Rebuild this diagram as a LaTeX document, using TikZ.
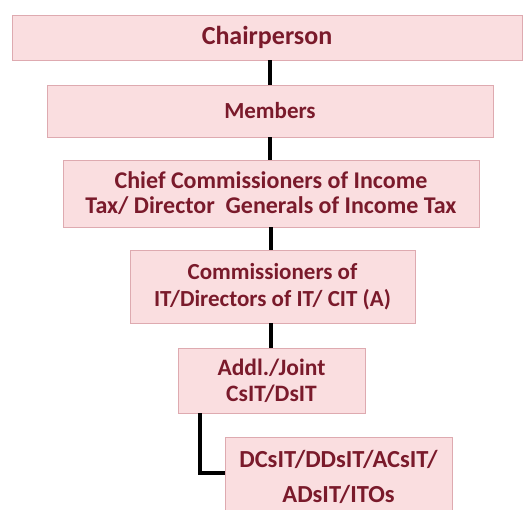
\documentclass[tikz,border=0pt]{standalone}
\usepackage{fontspec}
\setmainfont{Carlito}
\definecolor{pinkfill}{RGB}{250,222,224}
\definecolor{pinkedge}{RGB}{222,170,176}
\definecolor{maroon}{RGB}{122,26,43}
\newcommand{\boxfont}[2]{\bfseries\fontsize{#1}{#2}\selectfont}
\tikzset{
	orgbox/.style={draw=pinkedge, fill=pinkfill, text=maroon, align=center, inner sep=0pt},
	link/.style={line width=4pt, black}
}
\begin{document}
\begin{tikzpicture}[x=1pt, y=-1pt]
		\useasboundingbox (0, 0) rectangle (525, 509);

		\node[orgbox, minimum width=510pt, minimum height=45pt, font=\boxfont{26}{28}] (chair) at (267, 37.5) {Chairperson};
		\node[orgbox, minimum width=446pt, minimum height=52pt, font=\boxfont{23}{25}] (members) at (270, 111) {Members};
		\node[orgbox, minimum width=416pt, minimum height=67pt, font=\boxfont{24}{25}] (chief) at (271, 193.5) {Chief Commissioners of Income\\Tax/ Director\ \ Generals of Income Tax};
		\node[orgbox, minimum width=285pt, minimum height=73pt, font=\boxfont{23}{27}] (comm) at (272.5, 286.5) {Commissioners of\\IT/Directors of IT/ CIT (A)};
		\node[orgbox, minimum width=187pt, minimum height=65pt, font=\boxfont{23.5}{26}] (addl) at (271.5, 380.5) {Addl./Joint\\CsIT/DsIT};
		\node[orgbox, minimum width=227pt, minimum height=80pt, font=\boxfont{24.5}{35}] (dcs) at (338.5, 477) {DCsIT/DDsIT/ACsIT/\\ADsIT/ITOs};

		\draw[link] (270, 60) -- (members.north -| 270, 0);
		\draw[link] (270, 137) -- (chief.north -| 270, 0);
		\draw[link] (271, 227) -- (comm.north -| 271, 0);
		\draw[link] (271, 323) -- (addl.north -| 271, 0);
		\draw[link] ([xshift=22pt]addl.south west) |- ([yshift=4pt]dcs.west);
	\end{tikzpicture}
\end{document}
